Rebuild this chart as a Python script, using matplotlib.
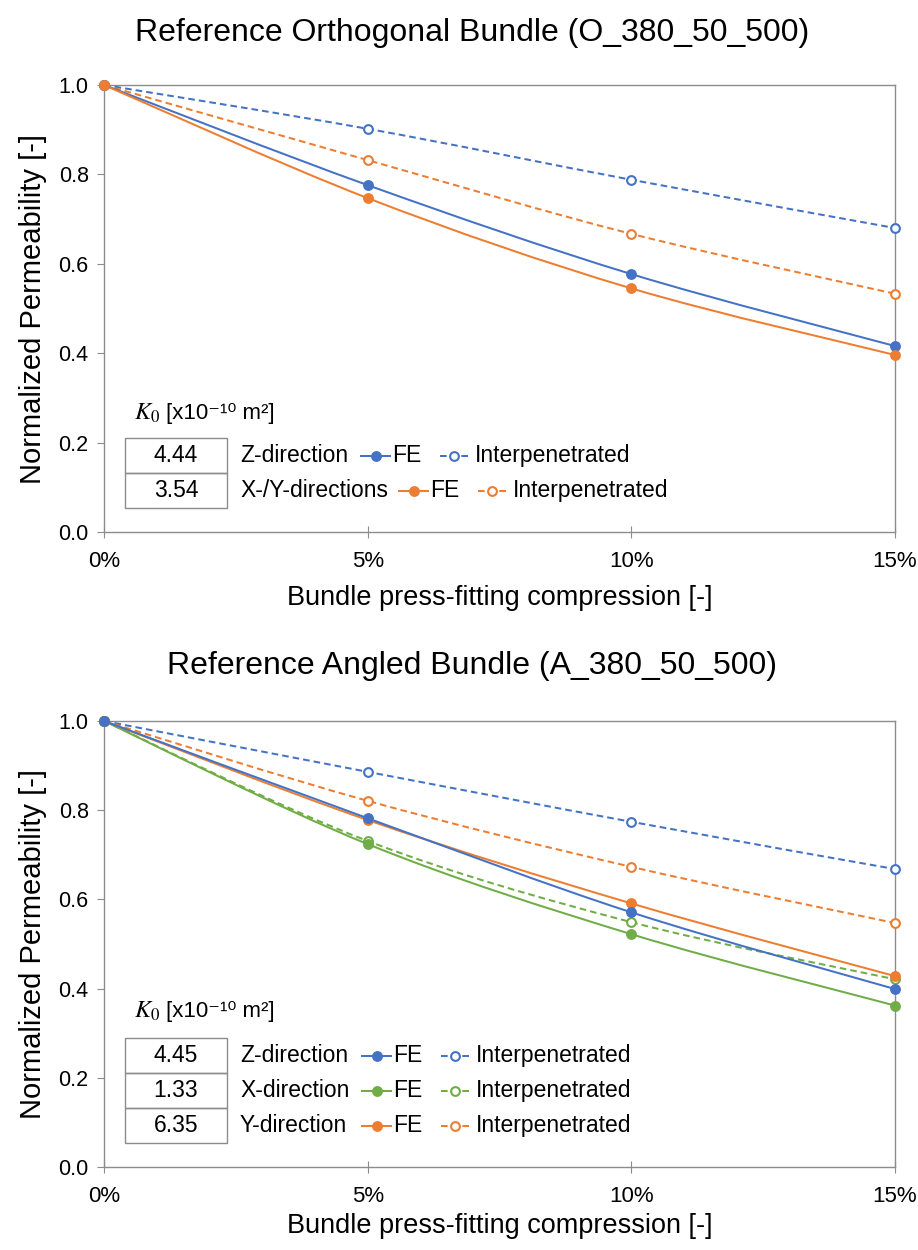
import matplotlib
matplotlib.use("Agg")
import matplotlib.pyplot as plt
from matplotlib.path import Path
from matplotlib.patches import PathPatch, Rectangle
from matplotlib.lines import Line2D
import numpy as np

plt.rcParams['font.family'] = ['Liberation Sans', 'DejaVu Sans']
plt.rcParams['mathtext.fontset'] = 'stix'

BLUE = '#4472C4'
ORANGE = '#ED7D31'
GREEN = '#70AD47'

# data
compression = [0, 5, 10, 15]  # %
x_ticks = [0, 5, 10, 15]
x_ticklabels = ['0%', '5%', '10%', '15%']

# orthogonal bundle
o_z_fe = [1.0, 0.776, 0.577, 0.416]
o_z_int = [1.0, 0.902, 0.788, 0.680]
o_xy_fe = [1.0, 0.747, 0.545, 0.396]
o_xy_int = [1.0, 0.832, 0.667, 0.533]
o_k0 = ['4.44', '3.54']
o_dirs = ['Z-direction', 'X-/Y-directions']

# angled bundle
a_z_fe = [1.0, 0.782, 0.571, 0.399]
a_z_int = [1.0, 0.886, 0.774, 0.668]
a_x_fe = [1.0, 0.724, 0.522, 0.362]
a_x_int = [1.0, 0.731, 0.549, 0.421]
a_y_fe = [1.0, 0.778, 0.591, 0.428]
a_y_int = [1.0, 0.821, 0.673, 0.547]
a_k0 = ['4.45', '1.33', '6.35']
a_dirs = ['Z-direction', 'X-direction', 'Y-direction']

W, H = 918, 1250
DASH = (0, (3.3, 2.0))
LW = 1.45
LEG_FS = 16.5


def fx(px):
    return px / W


def fy(py):
    return 1 - py / H


def smooth_path(x, y):
    # Excel-style smoothed line as cubic Bezier segments
    pts = np.column_stack([x, y]).astype(float)
    n = len(pts)
    verts = [pts[0]]
    codes = [Path.MOVETO]
    for i in range(n - 1):
        p0 = pts[i - 1] if i > 0 else pts[i]
        p1 = pts[i]
        p2 = pts[i + 1]
        p3 = pts[i + 2] if i + 2 < n else pts[i + 1]
        c1 = p1 + (p2 - p0) / 6.0
        c2 = p2 - (p3 - p1) / 6.0
        verts += [c1, c2, p2]
        codes += [Path.CURVE4] * 3
    return Path(verts, codes)


def series(ax, y, color, dashed):
    ls = DASH if dashed else '-'
    ax.add_patch(PathPatch(smooth_path(compression, y), fill=False,
                           edgecolor=color, lw=LW, linestyle=ls, zorder=3))
    if dashed:
        ax.plot(compression, y, 'o', ms=6.3, mfc='white', mec=color, mew=1.5,
                ls='none', zorder=4, clip_on=False)
    else:
        ax.plot(compression, y, 'o', ms=6.8, mfc=color, mec=color,
                ls='none', zorder=5, clip_on=False)


def style_axes(ax, title, title_y, xlabel_y):
    ax.set_xlim(0, 15)
    ax.set_ylim(0, 1.0)
    ax.set_xticks(x_ticks)
    ax.set_xticklabels(x_ticklabels)
    ax.set_yticks(np.arange(0, 1.01, 0.2))
    ax.set_yticklabels([f'{v:.1f}' for v in np.arange(0, 1.01, 0.2)])
    for s in ax.spines.values():
        s.set_color('#8c8c8c')
        s.set_linewidth(1.0)
    ax.tick_params(axis='x', direction='inout', length=9, color='#8c8c8c',
                   labelsize=16, pad=9)
    ax.tick_params(axis='y', direction='out', length=5, color='#8c8c8c',
                   labelsize=15.5, pad=6)
    ax.set_ylabel('Normalized Permeability [-]', fontsize=21, labelpad=8)
    fig.text(fx(500), fy(xlabel_y), 'Bundle press-fitting compression [-]',
             fontsize=19.5, ha='center', va='center')
    fig.text(fx(472), fy(title_y), title, fontsize=23, ha='center', va='center')


def legend_block(fig, title_y, row_top, k0, dirs, colors, fe_x, int_x):
    fig.text(fx(134), fy(title_y), '$K_0$', fontsize=17.5, va='center', ha='left')
    fig.text(fx(166), fy(title_y), '[x10\u207b\u00b9\u2070 m\u00b2]', fontsize=16,
             va='center', ha='left')
    rh = 35
    for i, (k, d, c) in enumerate(zip(k0, dirs, colors)):
        top = row_top + i * rh
        fig.add_artist(Rectangle((fx(125), fy(top + rh)), fx(227) - fx(125), rh / H,
                                 transform=fig.transFigure, fill=False,
                                 edgecolor='#8c8c8c', lw=1.0))
        cy = fy(top + rh / 2)
        fig.text(fx(176), cy, k, fontsize=LEG_FS, ha='center', va='center')
        fig.text(fx(240), cy, d, fontsize=LEG_FS, ha='left', va='center')
        x0 = fe_x[i]
        fig.add_artist(Line2D([fx(x0), fx(x0 + 29)], [cy, cy], transform=fig.transFigure,
                              color=c, lw=LW))
        fig.add_artist(Line2D([fx(x0 + 15)], [cy], transform=fig.transFigure,
                              marker='o', ms=6.8, mfc=c, mec=c, ls='none'))
        fig.text(fx(x0 + 31), cy, 'FE', fontsize=LEG_FS, ha='left', va='center')
        x1 = int_x[i]
        fig.add_artist(Line2D([fx(x1), fx(x1 + 29)], [cy, cy], transform=fig.transFigure,
                              color=c, lw=LW, ls=DASH))
        fig.add_artist(Line2D([fx(x1 + 14)], [cy], transform=fig.transFigure,
                              marker='o', ms=6.3, mfc='white', mec=c, mew=1.5, ls='none'))
        fig.text(fx(x1 + 35), cy, 'Interpenetrated', fontsize=LEG_FS, ha='left', va='center')


fig = plt.figure(figsize=(W / 100, H / 100), dpi=100)

ax1 = fig.add_axes([fx(104), fy(532), fx(895) - fx(104), (532 - 85) / H])
series(ax1, o_z_int, BLUE, True)
series(ax1, o_xy_int, ORANGE, True)
series(ax1, o_z_fe, BLUE, False)
series(ax1, o_xy_fe, ORANGE, False)
style_axes(ax1, 'Reference Orthogonal Bundle (O_380_50_500)', 33, 598)
legend_block(fig, 413, 438, o_k0, o_dirs, [BLUE, ORANGE], [361, 399], [440, 478])

ax2 = fig.add_axes([fx(104), fy(1167), fx(895) - fx(104), (1167 - 721) / H])
series(ax2, a_z_int, BLUE, True)
series(ax2, a_y_int, ORANGE, True)
series(ax2, a_x_int, GREEN, True)
series(ax2, a_x_fe, GREEN, False)
series(ax2, a_y_fe, ORANGE, False)
series(ax2, a_z_fe, BLUE, False)
style_axes(ax2, 'Reference Angled Bundle (A_380_50_500)', 666, 1226)
legend_block(fig, 1011, 1038, a_k0, a_dirs, [BLUE, GREEN, ORANGE],
             [362, 362, 362], [441, 441, 441])

fig.savefig('out.png', dpi=100)
